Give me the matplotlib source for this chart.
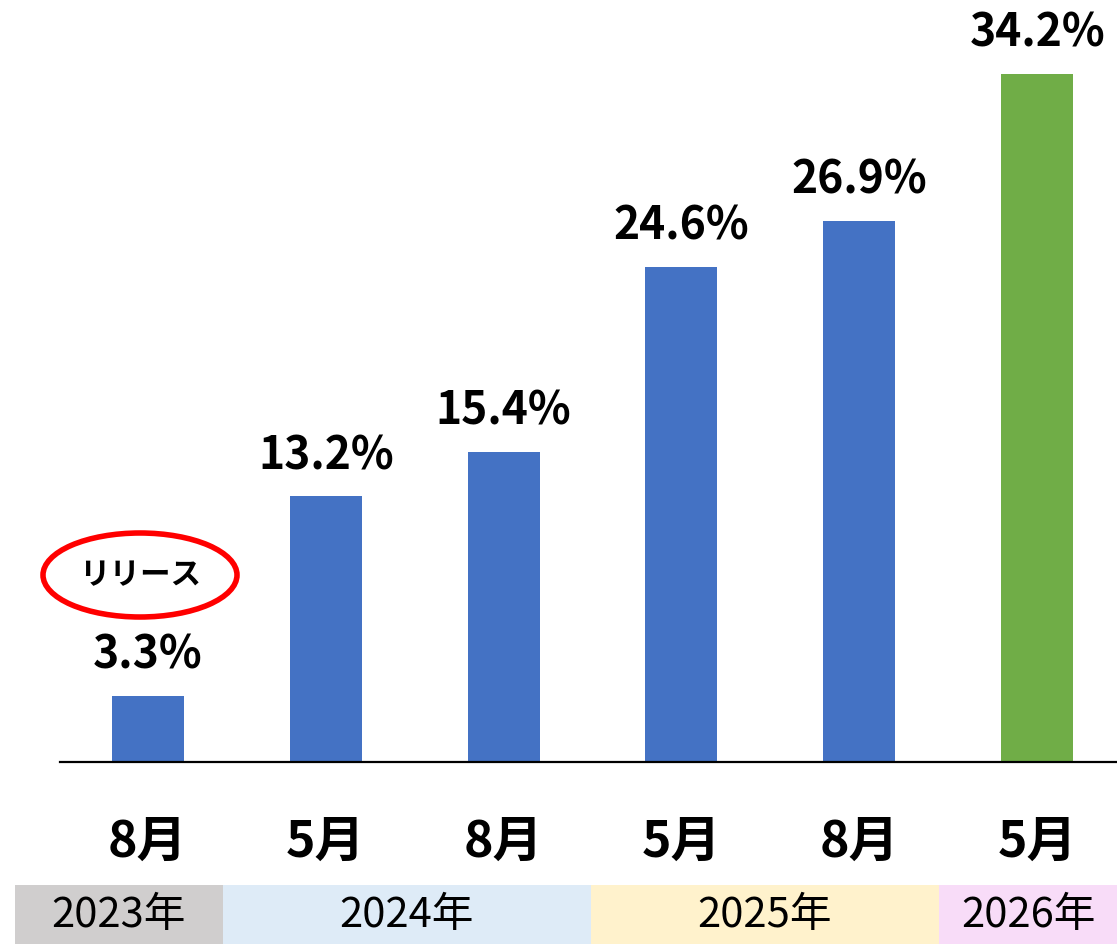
import matplotlib
matplotlib.use('Agg')
import matplotlib.pyplot as plt
from matplotlib.patches import Ellipse, Rectangle
import matplotlib.transforms as mtransforms

plt.rcParams['font.family'] = ['Noto Sans CJK JP', 'DejaVu Sans']

# Data
months = ['8月', '5月', '8月', '5月', '8月', '5月']
values = [3.3, 13.2, 15.4, 24.6, 26.9, 34.2]
bar_colors = ['#4472C4'] * 5 + ['#70AD47']
years = ['2023年', '2024年', '2025年', '2026年']
year_spans = [(-0.747, 0.42), (0.42, 2.49), (2.49, 4.45), (4.45, 5.449)]
year_colors = ['#D0CECE', '#DEEBF7', '#FFF2CC', '#F8DCF8']

W, H = 1117, 944
fig = plt.figure(figsize=(W / 100, H / 100), dpi=100)
ax = fig.add_axes([60 / W, 1 - 762 / H, 1057 / W, 762 / H])

x = list(range(len(values)))
ax.bar(x, values, width=0.405, color=bar_colors)
ax.set_xlim(-0.494, 5.449)
ax.set_ylim(0, 37.87)

for xi, v in zip(x, values):
    ax.annotate(f'{v}%', (xi, v), xytext=(0, 29), textcoords='offset points',
                ha='center', va='center', fontsize=32, fontweight='bold')

for s in ['top', 'right', 'left']:
    ax.spines[s].set_visible(False)
ax.spines['bottom'].set_linewidth(1.6)
ax.set_yticks([])
ax.set_xticks([])

# month labels
trans = mtransforms.blended_transform_factory(ax.transData, fig.transFigure)
for xi, m in zip(x, months):
    ax.text(xi, 1 - 842 / H, m, transform=trans, ha='center', va='center',
            fontsize=36, fontweight='bold')

# year band
for (x0, x1), c, y in zip(year_spans, year_colors, years):
    ax.add_patch(Rectangle((x0, 0), x1 - x0, 1 - 885 / H, transform=trans,
                           facecolor=c, edgecolor='none', clip_on=False))
    ax.text((x0 + x1) / 2, 1 - 915 / H, y, transform=trans, ha='center',
            va='center', fontsize=30)

# release marker
ax.add_patch(Ellipse((140 / W, 1 - 575 / H), 194 / W, 84 / H,
                     transform=fig.transFigure, fill=False, edgecolor='#FF0000',
                     linewidth=4, clip_on=False))
fig.text(140 / W, 1 - 575 / H, 'リリース', ha='center', va='center',
         fontsize=22, fontweight='bold')

fig.savefig('out.png', dpi=100)
